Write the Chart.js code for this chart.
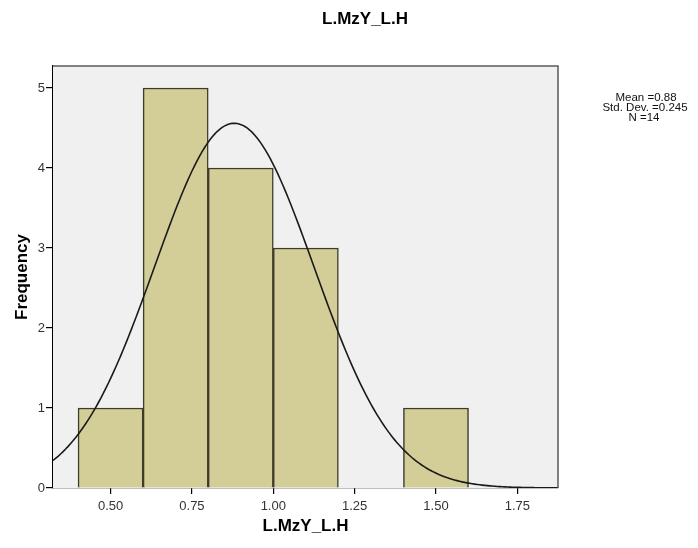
<!DOCTYPE html>
<html>
<head>
<meta charset="utf-8">
<script src="https://cdn.jsdelivr.net/npm/chart.js@4/dist/chart.umd.min.js"></script>
<style>
  html, body { margin: 0; padding: 0; background: #ffffff; }
  #wrap { width: 698px; height: 548px; }
</style>
</head>
<body>
<div id="wrap"><canvas id="c" width="698" height="548"></canvas></div>
<script>
// Histogram of L.MzY_L.H with fitted normal curve
const binCenters = [0.5, 0.7, 0.9, 1.1, 1.3, 1.5];
const binCounts  = [1, 5, 4, 3, 0, 1];
const xTicks = [0.5, 0.75, 1.0, 1.25, 1.5, 1.75];
const yTicks = [0, 1, 2, 3, 4, 5];
const statMean = 0.88;
const statSd = 0.245;
const statN = 14;
const binWidth = 0.2;
const xMin = 0.323, xMax = 1.875;
const yMax = 5.275;

// Normal density scaled to counts per bin, from the reported statistics
const curve = [];
for (let i = 0; i <= 200; i++) {
  const x = xMin + (xMax - xMin) * i / 200;
  const z = (x - statMean) / statSd;
  const y = statN * binWidth * Math.exp(-0.5 * z * z) / (statSd * Math.sqrt(2 * Math.PI));
  curve.push({ x: x, y: y });
}

const FONT = "'Liberation Sans', Arial, sans-serif";

const frame = {
  id: 'frame',
  beforeDatasetsDraw(chart) {
    const { ctx, chartArea: a } = chart;
    ctx.save();
    ctx.fillStyle = '#f0f0f0';
    ctx.fillRect(a.left, a.top, a.right - a.left, a.bottom - a.top);
    ctx.restore();
  },
  afterDraw(chart) {
    const { ctx, chartArea: a } = chart;
    ctx.save();
    ctx.strokeStyle = '#5a5a5a';
    ctx.lineWidth = 1.5;
    ctx.beginPath();
    ctx.moveTo(a.left, a.top);
    ctx.lineTo(a.right, a.top);
    ctx.lineTo(a.right, a.bottom);
    ctx.stroke();
    // chart title
    ctx.fillStyle = '#000';
    ctx.textAlign = 'center';
    ctx.textBaseline = 'middle';
    ctx.font = 'bold 17px ' + FONT;
    ctx.fillText('L.MzY_L.H', 365, 19);
    // statistics box
    ctx.font = '11.5px ' + FONT;
    ctx.fillStyle = '#111';
    ctx.fillText('Mean =' + statMean.toFixed(2), 646, 98);
    ctx.fillText('Std. Dev. =' + statSd.toFixed(3), 645, 108);
    ctx.fillText('N =' + statN, 644, 118);
    ctx.restore();
  }
};

new Chart(document.getElementById('c'), {
  data: {
    datasets: [
      {
        type: 'line',
        data: curve,
        borderColor: '#1a1a1a',
        borderWidth: 1.6,
        pointRadius: 0,
        tension: 0,
        order: 0
      },
      {
        type: 'bar',
        data: binCenters.map((c, i) => ({ x: c, y: binCounts[i] })),
        backgroundColor: '#d3ce97',
        borderColor: '#3d3b2a',
        borderWidth: 1.5,
        barPercentage: 1,
        categoryPercentage: 1,
        order: 1
      }
    ]
  },
  options: {
    responsive: false,
    animation: false,
    layout: { padding: { left: 0, right: 140, top: 66, bottom: 0 } },
    plugins: {
      legend: { display: false },
      tooltip: { enabled: false },
      title: { display: false }
    },
    scales: {
      x: {
        type: 'linear',
        min: xMin,
        max: xMax,
        offset: false,
        afterBuildTicks(scale) { scale.ticks = xTicks.map(v => ({ value: v })); },
        afterFit(scale) { scale.height = 60; },
        ticks: {
          callback: v => Number(v).toFixed(2),
          color: '#333',
          font: { family: FONT, size: 13 },
          padding: 5,
          maxRotation: 0
        },
        grid: { offset: false, drawOnChartArea: false, drawTicks: true, tickLength: 6, color: '#000', lineWidth: 1.2 },
        border: { display: true, color: '#000', width: 1.2 },
        title: {
          display: true,
          text: 'L.MzY_L.H',
          color: '#000',
          font: { family: FONT, size: 17, weight: 'bold' },
          padding: { top: 0, bottom: 11 }
        }
      },
      y: {
        type: 'linear',
        min: 0,
        max: yMax,
        afterBuildTicks(scale) { scale.ticks = yTicks.map(v => ({ value: v })); },
        afterFit(scale) { scale.width = 53; },
        ticks: {
          color: '#333',
          font: { family: FONT, size: 13 },
          padding: 1
        },
        grid: { drawOnChartArea: false, drawTicks: true, tickLength: 7, color: '#000', lineWidth: 1.2 },
        border: { display: true, color: '#000', width: 1.2 },
        title: {
          display: true,
          text: 'Frequency',
          color: '#000',
          font: { family: FONT, size: 17, weight: 'bold' },
          padding: { top: 12, bottom: 0 }
        }
      }
    }
  },
  plugins: [frame]
});
</script>
</body>
</html>
